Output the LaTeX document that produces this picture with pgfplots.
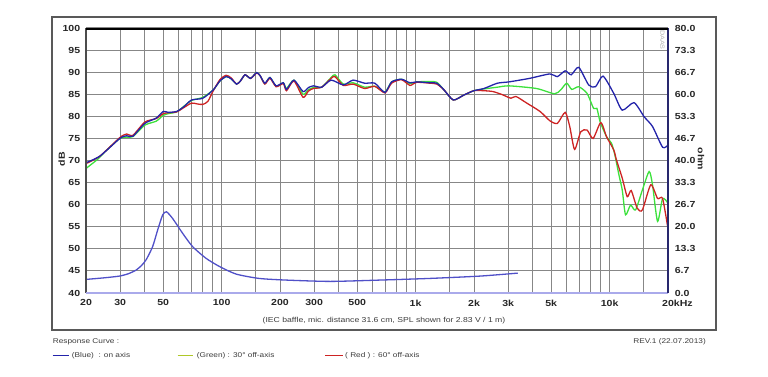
\documentclass[border=0pt]{standalone}
\usepackage{fontspec}
\setmainfont{Liberation Sans}[FakeStretch=1.2]
\usepackage{pgfplots}
\pgfplotsset{compat=1.18}
\definecolor{gridc}{RGB}{135,135,135}
\definecolor{splblue}{RGB}{35,35,170}
\definecolor{splgreen}{RGB}{60,225,60}
\definecolor{splred}{RGB}{205,35,35}
\definecolor{impc}{RGB}{80,80,200}
\definecolor{navy}{RGB}{40,40,110}
\definecolor{lightb}{RGB}{170,170,235}
\definecolor{legg}{RGB}{175,200,40}
\definecolor{txtc}{RGB}{60,60,60}
\begin{document}
\begin{tikzpicture}[x=1pt,y=1pt]
\useasboundingbox (-86,-84) rectangle (682,293);
\draw[gray!70!black, line width=1.3pt] (-34,276) rectangle (630,-37);
\begin{axis}[at={(0,0)}, anchor=south west, scale only axis, width=582pt, height=265pt,
 xmode=log, xmin=20, xmax=20000, ymin=40, ymax=100,
 xtick={20,30,50,100,200,300,500,1000,2000,3000,5000,10000,20000},
 xticklabels={20,30,50,100,200,300,500,1k,2k,3k,5k,10k,{20\rlap{kHz}}},
 minor xtick={40,60,70,80,90,150,400,600,700,800,900,1500,4000,6000,7000,8000,9000,15000},
 ytick={40,45,...,100},
 grid=both, major grid style={gridc, line width=1pt}, minor grid style={gridc, line width=1pt},
 major tick length=0, minor tick length=0,
 axis line style={draw=none},
 tick label style={font=\fontsize{8.8}{9}\selectfont\bfseries, text=black!85},
 xticklabel style={yshift=-3.3pt},
 yticklabel style={xshift=-2.3pt},
 /pgf/number format/assume math mode=true,
 clip=true]
\addplot[splgreen, line width=1.3pt, smooth, tension=0.4] coordinates {
(20,68.2)(23,70.3)(25.5,72.3)(29.9,75.0)(32.4,75.3)(34.9,75.4)(40.2,78.0)(46,78.9)(50,80.2)(53,80.6)(58.6,81.0)(64,82.3)(70,83.6)(80,84.3)(90.6,86.0)(98,88.0)(105.6,89.0)(112,88.5)(119.5,87.3)(125,88.0)(132,89.4)(141,88.6)(151.5,89.9)(158,89.2)(167,87.4)(177.6,88.8)(191,86.8)(208,87.6)(216,86.3)(236,88.2)(263,85.0)(280,86.0)(297,86.5)(328,86.6)(367,88.8)(384,89.4)(424,87.3)(476,87.6)(546,86.6)(616,86.8)(695,85.5)(752,87.8)(846,88.4)(935,87.4)(1013,87.8)(1188,87.9)(1287,87.7)(1400,86.0)(1564,83.7)(1770,84.8)(1995,85.8)(2250,86.2)(2640,86.6)(3030,86.9)(4200,86.3)(5200,85.1)(5600,86.0)(6010,87.5)(6380,86.1)(6930,86.7)(7650,85.2)(8270,81.8)(8600,81.8)(8930,78.8)(9640,75.4)(10230,73.9)(10650,71.2)(11200,66.5)(11620,63.3)(12080,57.7)(12820,59.9)(13600,58.8)(14750,63.3)(15980,67.5)(16640,64.5)(17670,56.2)(18760,61.4)(20000,60.3)};
\addplot[splred, line width=1.3pt, smooth, tension=0.4] coordinates {
(20,69.3)(23.6,71.0)(29.9,75.2)(32.4,76.0)(34.9,75.7)(40.2,78.7)(46,79.5)(50,80.6)(53,80.8)(58.6,81.0)(64,82.0)(70,83.0)(75,82.8)(80,82.7)(85,83.4)(90.6,85.8)(98,88.3)(105.6,89.3)(112,88.7)(119.5,87.3)(125,88.0)(132,89.4)(141,88.6)(151.5,89.8)(158,89.2)(167,87.3)(177.6,88.6)(191,86.7)(208,87.4)(216,85.8)(236,88.0)(263,84.3)(280,85.7)(297,86.3)(328,86.6)(367,88.6)(384,89.0)(424,87.0)(476,87.3)(546,86.3)(616,86.8)(695,85.3)(752,87.5)(846,88.3)(935,87.0)(1013,87.7)(1188,87.5)(1287,87.3)(1400,86.0)(1564,83.7)(1770,84.8)(1995,85.8)(2250,85.8)(2510,85.6)(2800,84.9)(3100,84.1)(3290,84.5)(3740,83.0)(4380,81.1)(4920,79.0)(5380,78.4)(5900,80.9)(6230,77.7)(6600,72.5)(7100,76.5)(7650,76.9)(8220,75.0)(9010,78.6)(9640,75.4)(10500,72.4)(10850,70.1)(11620,66.0)(12330,61.8)(12920,63.2)(13870,59.2)(14750,58.8)(16300,64.5)(17670,61.4)(18760,61.4)(20000,54.5)};
\addplot[splblue, line width=1.3pt, smooth, tension=0.4] coordinates {
(20,69.5)(23.6,71.0)(29.9,75.0)(32.4,75.6)(34.9,75.5)(40.2,78.4)(46,79.6)(50,81.1)(53,80.9)(58.6,81.1)(64,82.2)(70,83.7)(80,84.1)(90.6,86.0)(98,88.0)(105.6,89.0)(112,88.5)(119.5,87.3)(125,88.0)(132,89.4)(141,88.6)(151.5,89.9)(158,89.2)(167,87.5)(177.6,88.8)(191,86.9)(208,87.6)(216,86.1)(236,88.2)(263,85.6)(280,86.5)(297,86.9)(328,86.6)(367,88.2)(424,87.1)(476,88.2)(546,87.5)(616,87.5)(695,85.4)(752,87.8)(846,88.4)(935,87.6)(1013,87.8)(1188,87.6)(1287,87.5)(1400,86.0)(1564,83.7)(1770,84.8)(1995,85.8)(2250,86.3)(2640,87.5)(3030,87.8)(3874,88.6)(4920,89.6)(5380,89.0)(5900,90.3)(6340,89.4)(6930,91.1)(7800,87.1)(8460,86.7)(9250,89.1)(10500,85.2)(11620,81.4)(13360,83.1)(15070,79.9)(16640,77.7)(18760,73.0)(20000,73.5)};
\end{axis}
\begin{axis}[at={(0,0)}, anchor=south west, scale only axis, width=582pt, height=265pt,
 xmode=log, xmin=20, xmax=20000, ymin=0, ymax=80,
 axis y line*=right, axis x line=none,
 ytick={0,6.6667,13.3333,20,26.6667,33.3333,40,46.6667,53.3333,60,66.6667,73.3333,80},
 yticklabels={0.0,6.7,13.3,20.0,26.7,33.3,40.0,46.7,53.3,60.0,66.7,73.3,80.0},
 major tick length=0, minor tick length=0,
 axis line style={draw=none},
 tick label style={font=\fontsize{8.8}{9}\selectfont\bfseries, text=black!85},
 yticklabel style={xshift=3.3pt}]
\addplot[impc, line width=1.3pt, smooth, tension=0.4] coordinates {
(20,4.1)(25,4.6)(29.7,5.1)(33,5.8)(36.2,6.9)(38.5,8.2)(40.8,10.0)(44.1,14.0)(46.8,19.0)(49.7,23.6)(52,24.5)(55.9,22.5)(63,18.0)(70.9,14.0)(83,10.5)(97.5,8.0)(119,5.7)(156,4.4)(215,3.9)(362,3.5)(654,3.9)(1184,4.4)(2140,5.1)(3360,6.0)};
\end{axis}
\draw[gray!60!black, line width=1.2pt] (0,0) -- (0,265);
\draw[lightb, line width=1.6pt] (0,0) -- (582,0);
\draw[navy, line width=1.6pt] (582,0) -- (582,265);
\draw[black, line width=2.6pt] (0,264) -- (582,264);
\node[rotate=90, font=\fontsize{8.8}{9}\selectfont\bfseries, text=black!85] at (-24.3,134) {dB};
\node[rotate=-90, font=\fontsize{8.8}{9}\selectfont\bfseries, text=black!85] at (615,134) {ohm};
\node[rotate=-90, font=\fontsize{6}{6}\selectfont, text=gray!60] at (576.5,253) {DAAS};
\node[font=\fontsize{7.2}{8}\selectfont, text=txtc] at (298,-27.7) {(IEC baffle, mic. distance 31.6 cm, SPL shown for 2.83 V / 1 m)};
\node[anchor=west, inner sep=0pt, font=\fontsize{6.9}{8}\selectfont, text=txtc] at (-33.3,-48.7) {Response Curve :};
\node[anchor=west, inner sep=0pt, font=\fontsize{6.9}{8}\selectfont, text=txtc] at (-14.3,-62.7) {(Blue)\ \ : on axis};
\node[anchor=west, inner sep=0pt, font=\fontsize{6.9}{8}\selectfont, text=txtc] at (110.7,-62.7) {(Green) : 30° off-axis};
\node[anchor=west, inner sep=0pt, font=\fontsize{6.9}{8}\selectfont, text=txtc] at (259,-62.7) {( Red ) : 60° off-axis};
\node[anchor=east, inner sep=0pt, font=\fontsize{6.9}{8}\selectfont, text=txtc] at (620,-48.7) {REV.1 (22.07.2013)};
\draw[draw=splblue, line width=1pt] (-33.3,-62.7) -- (-16.7,-62.7);
\draw[draw=legg, line width=1pt] (91.7,-62.7) -- (106.7,-62.7);
\draw[draw=splred, line width=1pt] (239,-62.7) -- (257.3,-62.7);
\end{tikzpicture}
\end{document}
